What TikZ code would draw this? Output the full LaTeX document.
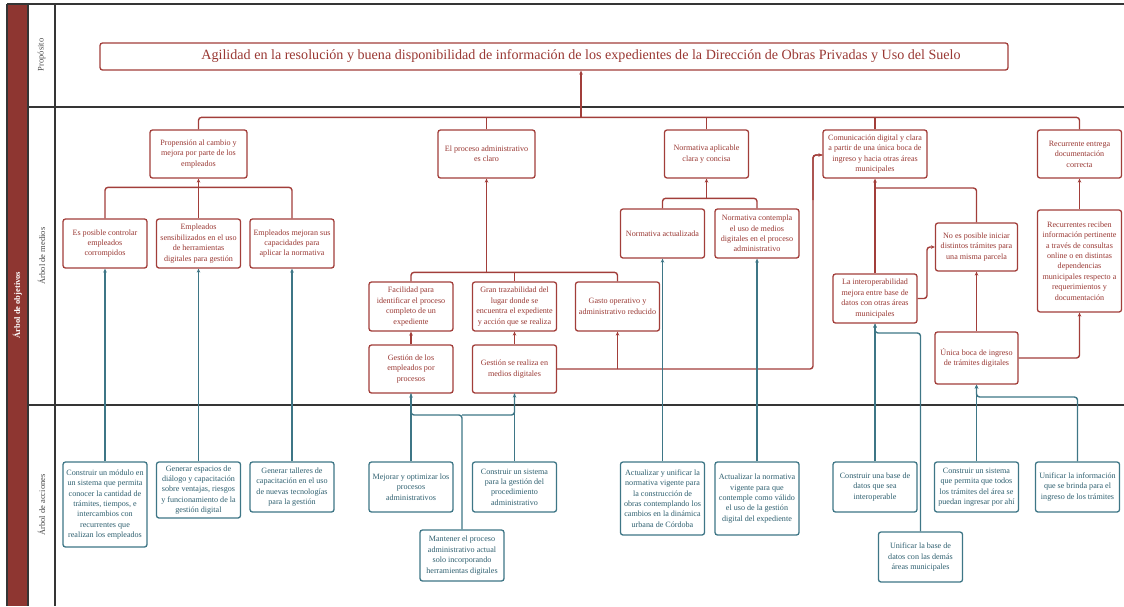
\documentclass[tikz,border=0pt]{standalone}
\usepackage{fontspec}
\setmainfont{Liberation Serif}
\usetikzlibrary{arrows.meta}

\definecolor{oxred}{HTML}{A23E3A}
\definecolor{oxtxt}{HTML}{9A3934}
\definecolor{tealln}{HTML}{3E7686}
\definecolor{tealtxt}{HTML}{2F6070}
\definecolor{bandred}{HTML}{8E3631}
\definecolor{framegray}{HTML}{353535}
\definecolor{labelgray}{HTML}{4A4A4A}

\tikzset{
  boxfont/.style={font=\fontsize{8.1}{10.4}\selectfont},
  rbox/.style={draw=oxred, line width=1.3pt, rounded corners=2.5pt, fill=white,
    text=oxtxt, align=center, inner sep=0.5pt, boxfont},
  tbox/.style={draw=tealln, line width=1.3pt, rounded corners=2.5pt, fill=white,
    text=tealtxt, align=center, inner sep=0.5pt, boxfont},
  rl/.style={draw=oxred, line width=1.4pt, rounded corners=3pt},
  rarr/.style={rl, -{Stealth[length=4pt,width=3.6pt]}},
  tl/.style={draw=tealln, line width=1.4pt, rounded corners=3pt},
  tarr/.style={tl, -{Stealth[length=4pt,width=3.6pt]}},
  sepline/.style={draw=framegray, line width=1.8pt},
  colline/.style={draw=framegray, line width=1.2pt},
  collabel/.style={rotate=90, text=labelgray, font=\fontsize{8.5}{10}\selectfont},
}

\begin{document}
\begin{tikzpicture}[x=1pt,y=-1pt]
\useasboundingbox (0,0) rectangle (1124,606);

% ---- frame of the table ----
\fill[bandred] (7,4) rectangle (28,606);
\draw[colline] (7,4) -- (7,606);
\draw[colline] (28,4) -- (28,606);
\draw[colline] (55,4) -- (55,606);
\draw[sepline] (7,4) -- (1124,4);
\draw[sepline] (28,107) -- (1124,107);
\draw[sepline] (28,405) -- (1124,405);

\node[rotate=90, text=white, font=\bfseries\fontsize{8.5}{10}\selectfont] (band) at (17.5,305) {Árbol de objetivos};
\node[collabel] (lprop) at (41.5,55) {Propósito};
\node[collabel] (lmed) at (41.5,256) {Árbol de medios};
\node[collabel] (lacc) at (41.5,505) {Árbol de acciones};

% ---- purpose (text sits a little right of the box centre) ----
\node[rbox, minimum width=908pt, minimum height=27pt, font=\fontsize{14.1}{16}\selectfont] (purp) at (554,56.5)
  {\hspace*{54pt}Agilidad en la resolución y buena disponibilidad de información de los expedientes de la Dirección de Obras Privadas y Uso del Suelo};

% ---- means, first level ----
\node[rbox, minimum width=97pt, minimum height=48pt] (prop) at (198.5,154) {Propensión al cambio y\\mejora por parte de los\\empleados};
\node[rbox, minimum width=97pt, minimum height=48pt] (proc) at (486.5,154) {El proceso administrativo\\es claro};
\node[rbox, minimum width=84pt, minimum height=48pt] (norm) at (706.5,154) {Normativa aplicable\\clara y concisa};
\node[rbox, minimum width=104pt, minimum height=48pt] (comu) at (875,154) {Comunicación digital y clara\\a partir de una única boca de\\ingreso y hacia otras áreas\\municipales};
\node[rbox, minimum width=84pt, minimum height=48pt] (recu) at (1079.5,154) {Recurrente entrega\\documentación\\correcta};

% ---- means, lower levels ----
\node[rbox, minimum width=84pt, minimum height=49pt] (espos) at (105,243.5) {Es posible controlar\\empleados\\corrompidos};
\node[rbox, minimum width=84pt, minimum height=49pt] (esens) at (198.5,243.5) {Empleados\\sensibilizados en el uso\\de herramientas\\digitales para gestión};
\node[rbox, minimum width=84pt, minimum height=49pt] (emej) at (292,243.5) {Empleados mejoran sus\\capacidades para\\aplicar la normativa};

\node[rbox, minimum width=84pt, minimum height=49pt] (faci) at (411,306.5) {Facilidad para\\identificar el proceso\\completo de un\\expediente};
\node[rbox, minimum width=84pt, minimum height=49pt] (gran) at (514.5,306.5) {Gran trazabilidad del\\lugar donde se\\encuentra el expediente\\y acción que se realiza};
\node[rbox, minimum width=84pt, minimum height=49pt] (gasto) at (617.5,306.5) {Gasto operativo y\\administrativo reducido};
\node[rbox, minimum width=84pt, minimum height=48pt] (gemp) at (411,369) {Gestión de los\\empleados por\\procesos};
\node[rbox, minimum width=84pt, minimum height=48pt] (gmed) at (514.5,369) {Gestión se realiza en\\medios digitales};

\node[rbox, minimum width=84pt, minimum height=49pt] (nact) at (662.5,233.5) {Normativa actualizada};
\node[rbox, minimum width=84pt, minimum height=49pt] (ncon) at (757,233.5) {Normativa contempla\\el uso de medios\\digitales en el proceso\\administrativo};

\node[rbox, minimum width=84pt, minimum height=49pt] (inter) at (875,298.5) {La interoperabilidad\\mejora entre base de\\datos con otras áreas\\municipales};
\node[rbox, minimum width=82pt, minimum height=48pt] (noes) at (976.5,247) {No es posible iniciar\\distintos trámites para\\una misma parcela};
\node[rbox, minimum width=83pt, minimum height=52pt] (unica) at (976.5,358) {Única boca de ingreso\\de trámites digitales};
\node[rbox, minimum width=84pt, minimum height=102pt] (recib) at (1079.5,261) {Recurrentes reciben\\información pertinente\\a través de consultas\\online o en distintas\\dependencias\\municipales respecto a\\requerimientos y\\documentación};

% ---- actions ----
\node[tbox, minimum width=84pt, minimum height=85pt] (a1) at (105,504.5) {Construir un módulo en\\un sistema que permita\\conocer la cantidad de\\trámites, tiempos, e\\intercambios con\\recurrentes que\\realizan los empleados};
\node[tbox, minimum width=84pt, minimum height=56pt] (a2) at (198.5,490) {Generar espacios de\\diálogo y capacitación\\sobre ventajas, riesgos\\y funcionamiento de la\\gestión digital};
\node[tbox, minimum width=84pt, minimum height=50pt] (a3) at (292,487) {Generar talleres de\\capacitación en el uso\\de nuevas tecnologías\\para la gestión};
\node[tbox, minimum width=84pt, minimum height=50pt] (a4) at (411,487) {Mejorar y optimizar los\\procesos\\administrativos};
\node[tbox, minimum width=84pt, minimum height=50pt] (a5) at (514.5,487) {Construir un sistema\\para la gestión del\\procedimiento\\administrativo};
\node[tbox, minimum width=84pt, minimum height=51pt] (a6) at (462,555.5) {Mantener el proceso\\administrativo actual\\solo incorporando\\herramientas digitales};
\node[tbox, minimum width=84pt, minimum height=73pt] (a7) at (662.5,498.5) {Actualizar y unificar la\\normativa vigente para\\la construcción de\\obras contemplando los\\cambios en la dinámica\\urbana de Córdoba};
\node[tbox, minimum width=84pt, minimum height=73pt] (a8) at (757,498.5) {Actualizar la normativa\\vigente para que\\contemple como válido\\el uso de la gestión\\digital del expediente};
\node[tbox, minimum width=84pt, minimum height=50pt] (a9) at (875,487) {Construir una base de\\datos que sea\\interoperable};
\node[tbox, minimum width=84pt, minimum height=50pt] (a10) at (920.5,557) {Unificar la base de\\datos con las demás\\áreas municipales};
\node[tbox, minimum width=84pt, minimum height=50pt] (a11) at (976.5,487) {Construir un sistema\\que permita que todos\\los trámites del área se\\puedan ingresar por ahí};
\node[tbox, minimum width=84pt, minimum height=50pt] (a12) at (1077.5,487) {Unificar la información\\que se brinda para el\\ingreso de los trámites};

% ---- red connectors: means towards purpose ----
\coordinate (topj) at (581,118);
\draw[rl] (prop.north) -- ++(0,-12) -| (recu.north);
\draw[rl] (proc.north) -- (proc.north |- topj);
\draw[rl] (norm.north) -- (norm.north |- topj);
\draw[rl] (comu.north) -- (comu.north |- topj);
\draw[rarr] (topj) -- (topj |- purp.south);

% propensity group
\draw[rl] (espos.north) -- ++(0,-31) -| (emej.north);
\draw[rarr] (esens.north) -- (esens.north |- prop.south);

% administrative process group
\draw[rl] (faci.north) -- ++(0,-9) -| (gasto.north);
\draw[rl] (gran.north) -- ++(0,-9);
\coordinate (procj) at (486.5,273);
\draw[rarr] (procj) -- (proc.south);
\draw[rarr] (gemp.north) -- (faci.south);
\draw[rarr] (gmed.north) -- (gran.south);
\coordinate (gastoj) at (617.5,369);
\draw[rl] (gmed.east) -- (813,369) |- ([yshift=-1pt]comu.west);
\draw[rarr] (813,200) |- ([yshift=-1pt]comu.west);
\draw[rarr] (gastoj) -- (gasto.south);

% regulation group
\draw[rl] (nact.north) -- ++(0,-10) -| (ncon.north);
\draw[rarr] (706.5,199) -- (norm.south);

% communication group
\draw[rarr] (inter.north) -- (comu.south);
\draw[rl] (noes.north) |- (875,188);
\draw[rarr] (inter.east) -- (927,298.5) |- (noes.west);
\draw[rarr] (unica.north) -- (noes.south);
\draw[rarr] (unica.east) -| (recib.south);
\draw[rarr] (recib.north) -- (recu.south);

% ---- teal connectors: actions towards means ----
\draw[tarr] (a1.north) -- (espos.south);
\draw[tarr] (a2.north) -- (esens.south);
\draw[tarr] (a3.north) -- (emej.south);
\draw[tarr] (a4.north) -- (gemp.south);
\draw[tarr] (a5.north) -- (gmed.south);
\draw[tl] (a6.north) -- (462,415) -| (gemp.south);
\draw[tl] (462,415) -| (gmed.south);
\draw[tarr] (a7.north) -- (nact.south);
\draw[tarr] (a8.north) -- (ncon.south);
\draw[tarr] (a9.north) -- (inter.south);
\draw[tarr] (a10.north) |- (875,333) -- (inter.south);
\draw[tarr] (a11.north) -- (unica.south);
\draw[tarr] (a12.north) |- (976.5,397) -- (unica.south);

\end{tikzpicture}
\end{document}
